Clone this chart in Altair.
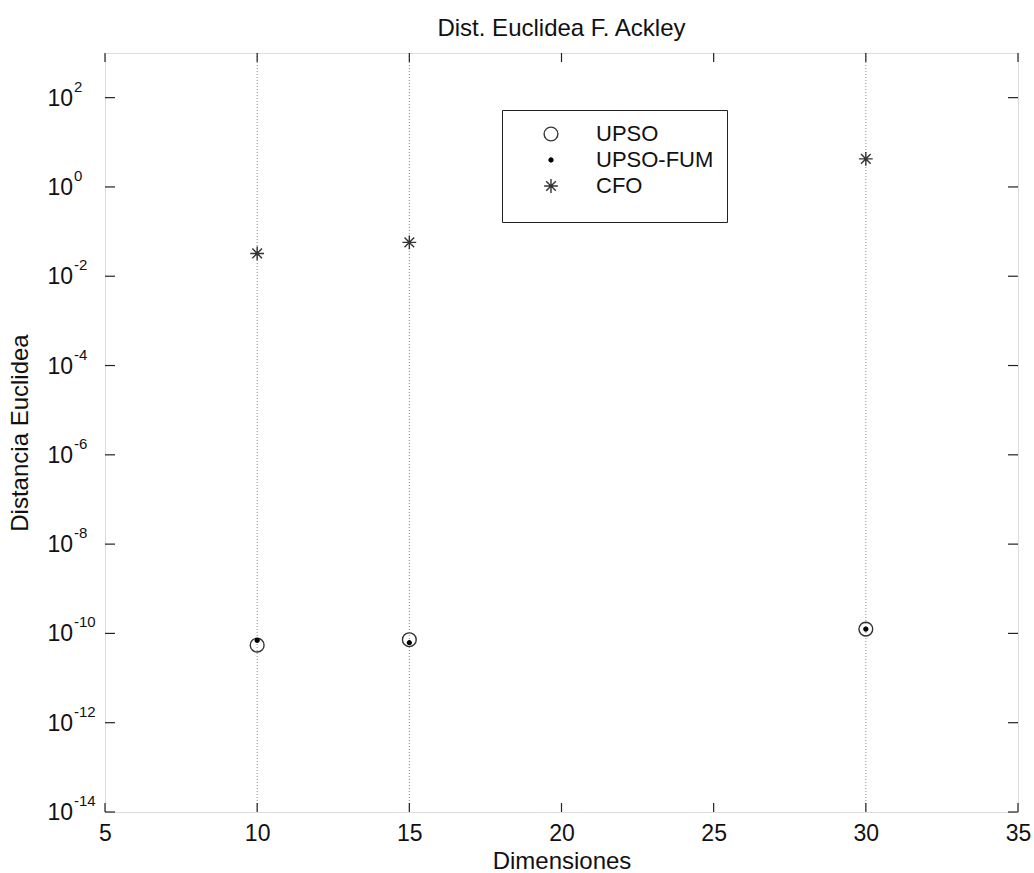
import altair as alt
import pandas as pd

# Results per problem dimension
dims = [10, 15, 30]
upso = [5.46e-11, 7.22e-11, 1.25e-10]
upso_fum = [6.97e-11, 6.18e-11, 1.25e-10]
cfo = [0.0324, 0.0572, 4.26]

series = ["UPSO", "UPSO-FUM", "CFO"]
x_ticks = [5, 10, 15, 20, 25, 30, 35]
y_exps = [-14, -12, -10, -8, -6, -4, -2, 0, 2]

W, H = 913, 759
FONT = "Liberation Sans"
INK = "#222222"
# marker shapes in unit coordinates
DOT = "M0,-0.28A0.28,0.28 0 1,1 0,0.28A0.28,0.28 0 1,1 0,-0.28Z"
ASTERISK = "M-1,0L1,0M0,-1L0,1M-0.7,-0.7L0.7,0.7M-0.7,0.7L0.7,-0.7"

rows = []
for name, vals in zip(series, [upso, upso_fum, cfo]):
    for d, v in zip(dims, vals):
        rows.append({"dim": d, "dist": v, "serie": name})
points_df = pd.DataFrame(rows)

xt_df = pd.DataFrame({"x": x_ticks})
grid_df = pd.DataFrame({"x": dims})
yt_df = pd.DataFrame({"v": [10.0 ** e for e in y_exps], "exp": [str(e) for e in y_exps]})

x_scale = alt.Scale(domain=[5, 35], nice=False, zero=False)
y_scale = alt.Scale(type="log", domain=[1e-14, 1e3], nice=False)

x_axis = alt.Axis(values=x_ticks, ticks=False, tickSize=0, domain=False, grid=False,
                  labelFlush=False, labelPadding=10, labelFontSize=23, labelFont=FONT,
                  labelColor="#111", title="Dimensiones", titleFontSize=24, titleFont=FONT,
                  titleFontWeight="normal", titleColor="#111", titlePadding=4)
y_axis = alt.Axis(labels=False, ticks=False, tickSize=0, domain=False, grid=False,
                  title="Distancia Euclidea", titleFontSize=24, titleFont=FONT,
                  titleFontWeight="normal", titleColor="#111", titleX=-85, titleY=H / 2,
                  titleAngle=270, titleAlign="center", titleBaseline="middle")

# dotted vertical guides at each evaluated dimension
grid = alt.Chart(grid_df).mark_rule(color="#888", strokeDash=[1, 2], strokeWidth=1).encode(
    x=alt.X("x:Q", scale=x_scale, axis=x_axis),
    y=alt.value(0), y2=alt.value(H),
)

# inward ticks on all four sides
xt_bottom = alt.Chart(xt_df).mark_rule(color=INK, strokeWidth=1.2).encode(
    x=alt.X("x:Q", scale=x_scale), y=alt.value(H), y2=alt.value(H - 9))
xt_top = alt.Chart(xt_df).mark_rule(color=INK, strokeWidth=1.2).encode(
    x=alt.X("x:Q", scale=x_scale), y=alt.value(0), y2=alt.value(9))
yt_left = alt.Chart(yt_df).mark_rule(color=INK, strokeWidth=1.2).encode(
    y=alt.Y("v:Q", scale=y_scale, axis=y_axis), x=alt.value(0), x2=alt.value(10))
yt_right = alt.Chart(yt_df).mark_rule(color=INK, strokeWidth=1.2).encode(
    y=alt.Y("v:Q", scale=y_scale), x=alt.value(W), x2=alt.value(W - 10))

# power-of-ten labels: base and superscript exponent
base_lbl = alt.Chart(yt_df).mark_text(align="right", baseline="middle", fontSize=23,
                                      font=FONT, color="#111", dy=1).encode(
    y=alt.Y("v:Q", scale=y_scale), x=alt.value(-32), text=alt.value("10"))
exp_lbl = alt.Chart(yt_df).mark_text(align="left", baseline="alphabetic", fontSize=15,
                                     font=FONT, color="#111", dy=-6).encode(
    y=alt.Y("v:Q", scale=y_scale), x=alt.value(-31), text="exp:N")

legend = alt.Legend(title=" ", titleOrient="bottom", titleFontSize=10, titlePadding=2,
                    orient="none", legendX=397, legendY=57,
                    strokeColor=INK, fillColor="white", padding=13,
                    symbolOffset=25, labelOffset=34, rowPadding=4, symbolSize=190,
                    labelFontSize=22, labelFont=FONT, labelColor="#111",
                    symbolStrokeWidth=1.4, labelLimit=300)

pts = alt.Chart(points_df).mark_point(strokeWidth=1.4, opacity=1, size=190).encode(
    x=alt.X("dim:Q", scale=x_scale),
    y=alt.Y("dist:Q", scale=y_scale),
    shape=alt.Shape("serie:N", scale=alt.Scale(domain=series, range=["circle", DOT, ASTERISK]),
                    legend=legend),
    fill=alt.Fill("serie:N", scale=alt.Scale(domain=series, range=["transparent", "#000", "transparent"]),
                  legend=legend),
    stroke=alt.Stroke("serie:N", scale=alt.Scale(domain=series, range=["#333", "#000", "#333"]),
                      legend=legend),
)

chart = alt.layer(grid, xt_bottom, xt_top, yt_left, yt_right, base_lbl, exp_lbl, pts).properties(
    width=W, height=H,
    title=alt.TitleParams("Dist. Euclidea F. Ackley", fontSize=24, font=FONT, fontWeight="normal",
                          color="#111", anchor="middle", offset=11),
    padding={"left": 105, "top": 53, "right": 16, "bottom": 62},
    autosize=alt.AutoSizeParams(type="none"),
).configure_view(stroke=INK, strokeWidth=1.2).configure(background="white")

chart.save("out.html", embed_options={"renderer": "svg", "actions": False})
